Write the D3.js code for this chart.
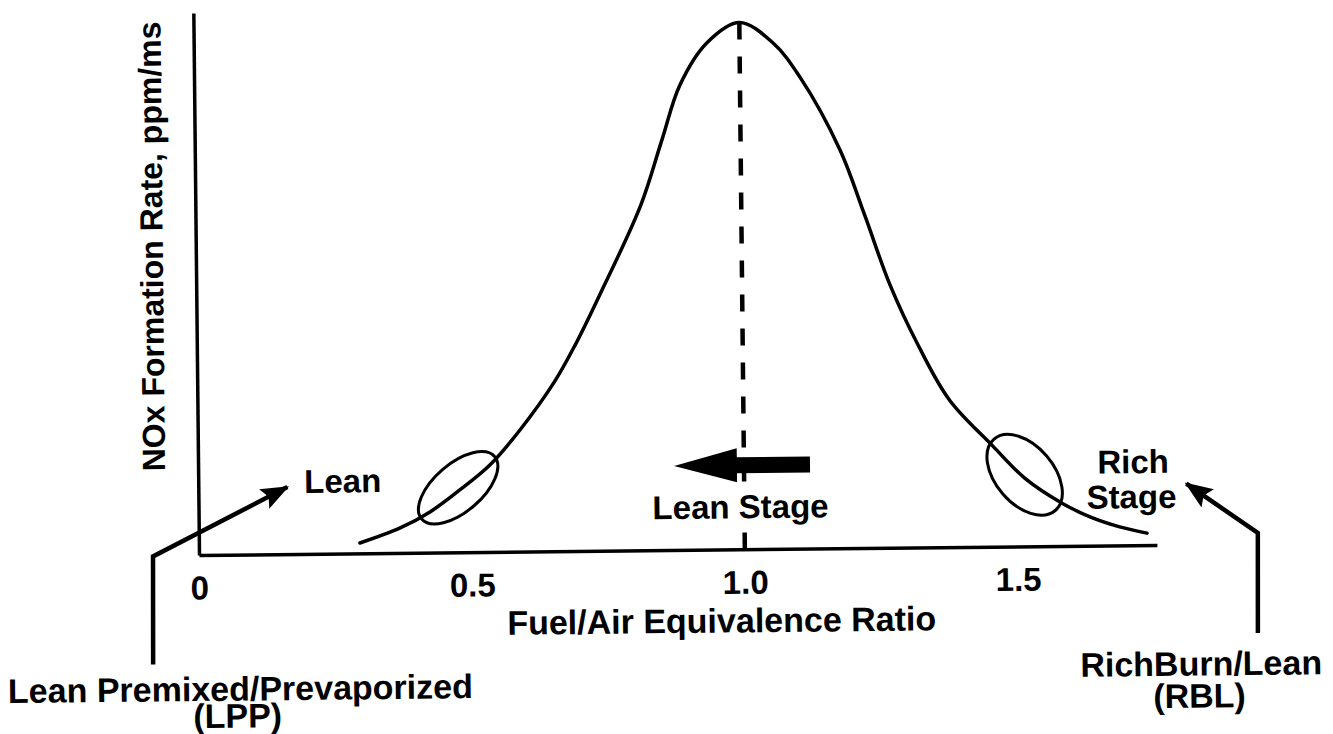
<!DOCTYPE html>
<html>
<head>
<meta charset="utf-8">
<script src="https://cdn.jsdelivr.net/npm/d3@7"></script>
<style>
  body { margin: 0; background: #fff; }
  text { font-family: "Liberation Sans", Arial, Helvetica, sans-serif; font-weight: bold; fill: #000; }
</style>
</head>
<body>
<div id="chart"></div>
<script>
// values (equivalence ratio vs relative NOx rate)
var phi = [0.295, 0.369, 0.424, 0.479, 0.535, 0.590, 0.654, 0.693, 0.739, 0.816, 0.856, 0.890, 0.940,
  1.000, 1.061, 1.110, 1.182, 1.226, 1.271, 1.321, 1.378, 1.456, 1.514, 1.582, 1.633, 1.687, 1.737];
var rate = [0.019, 0.046, 0.075, 0.115, 0.161, 0.224, 0.312, 0.380, 0.472, 0.637, 0.757, 0.858, 0.935,
  0.972, 0.934, 0.870, 0.735, 0.614, 0.485, 0.374, 0.271, 0.186, 0.126, 0.079, 0.053, 0.034, 0.022];
var xTicks = [0, 0.5, 1.0, 1.5];
var xTickLabels = ["0", "0.5", "1.0", "1.5"];
var xMax = 1.755;
var peakPhi = 1.0;
var peakRate = 0.972;
// the two marked operating zones (centre phi, centre rate)
var zones = [
  { phi: 0.476, rate: 0.119, rx: 48, ry: 24, angle: -40 },
  { phi: 1.514, rate: 0.132, rx: 47, ry: 29, angle: 50 }
];
// lean stage arrow: from phi, to phi, at rate
var stageArrow = { from: 1.121, head: 0.987, to: 0.872, rate: 0.155 };

var width = 1333,
  height = 734;
var origin = { x: 199, y: 555 };

var svg = d3
  .select("#chart")
  .append("svg")
  .attr("width", width)
  .attr("height", height);

// the scanned figure sits slightly tilted
var g = svg
  .append("g")
  .attr("transform", "rotate(-0.6," + origin.x + "," + origin.y + ")");

var x = d3.scaleLinear().domain([0, xMax]).range([origin.x, 1157]);
var y = d3.scaleLinear().domain([0, 1]).range([origin.y, 13]);

// arrow marker for the leaders
svg
  .append("defs")
  .append("marker")
  .attr("id", "head")
  .attr("markerUnits", "userSpaceOnUse")
  .attr("viewBox", "0 0 28 22")
  .attr("markerWidth", 28)
  .attr("markerHeight", 22)
  .attr("refX", 26)
  .attr("refY", 11)
  .attr("orient", "auto")
  .append("path")
  .attr("d", "M0,0 L28,11 L0,22 L5,11 z")
  .attr("fill", "#000");

// axes
var xAxis = d3
  .axisBottom(x)
  .tickValues(xTicks)
  .tickSize(0)
  .tickSizeOuter(0)
  .tickPadding(21)
  .tickFormat(function (d, i) {
    return xTickLabels[i];
  });

var gx = g
  .append("g")
  .attr("transform", "translate(0," + origin.y + ")")
  .call(xAxis);
gx.select(".domain").attr("stroke", "#000").attr("stroke-width", 3.5);
gx.selectAll("text")
  .attr("font-size", "33px")
  .attr("dy", "0.71em")
  .attr("font-family", null);

var gy = g
  .append("g")
  .attr("transform", "translate(" + origin.x + ",0)")
  .call(d3.axisLeft(y).tickValues([]).tickSizeOuter(0));
gy.select(".domain").attr("stroke", "#000").attr("stroke-width", 3.5);

// dashed line at stoichiometric
g.append("line")
  .attr("x1", x(peakPhi))
  .attr("x2", x(peakPhi))
  .attr("y1", y(peakRate))
  .attr("y2", y(0))
  .attr("stroke", "#000")
  .attr("stroke-width", 4.5)
  .attr("stroke-dasharray", "17,17");

// NOx curve
var line = d3
  .line()
  .x(function (d) { return x(d[0]); })
  .y(function (d) { return y(d[1]); })
  .curve(d3.curveCatmullRom.alpha(0.5));

g.append("path")
  .datum(d3.zip(phi, rate))
  .attr("d", line)
  .attr("fill", "none")
  .attr("stroke", "#000")
  .attr("stroke-width", 3.5)
  .attr("stroke-linecap", "round");

// ellipses
g.selectAll(".zone")
  .data(zones)
  .enter()
  .append("ellipse")
  .attr("class", "zone")
  .attr("cx", 0)
  .attr("cy", 0)
  .attr("rx", function (d) { return d.rx; })
  .attr("ry", function (d) { return d.ry; })
  .attr("transform", function (d) {
    return "translate(" + x(d.phi) + "," + y(d.rate) + ") rotate(" + d.angle + ")";
  })
  .attr("fill", "none")
  .attr("stroke", "#000")
  .attr("stroke-width", 3);

// lean stage arrow
var ay = y(stageArrow.rate);
g.append("polygon")
  .attr("points", [
    [x(stageArrow.from), ay - 8],
    [x(stageArrow.head), ay - 8],
    [x(stageArrow.head), ay - 17],
    [x(stageArrow.to), ay],
    [x(stageArrow.head), ay + 17],
    [x(stageArrow.head), ay + 8],
    [x(stageArrow.from), ay + 8]
  ].join(" "))
  .attr("fill", "#000");

// leaders
g.append("polyline")
  .attr("points", "152,664 153,556 288,488")
  .attr("fill", "none")
  .attr("stroke", "#000")
  .attr("stroke-width", 4.5)
  .attr("marker-end", "url(#head)");

g.append("polyline")
  .attr("points", "1257,644 1258,544 1187,494")
  .attr("fill", "none")
  .attr("stroke", "#000")
  .attr("stroke-width", 4.5)
  .attr("marker-end", "url(#head)");

// texts
g.append("text")
  .attr("transform", "translate(166,246) rotate(-90)")
  .attr("text-anchor", "middle")
  .attr("font-size", "32px")
  .text("NOx Formation Rate, ppm/ms");

g.append("text")
  .attr("x", 721)
  .attr("y", 638)
  .attr("text-anchor", "middle")
  .attr("font-size", "34px")
  .text("Fuel/Air Equivalence Ratio");

g.append("text")
  .attr("x", 305)
  .attr("y", 494)
  .attr("font-size", "33px")
  .text("Lean");

g.append("text")
  .attr("x", 741)
  .attr("y", 524)
  .attr("text-anchor", "middle")
  .attr("font-size", "33px")
  .style("paint-order", "stroke")
  .style("stroke", "#fff")
  .style("stroke-width", "6px")
  .text("Lean Stage");

var richText = g
  .append("text")
  .attr("text-anchor", "middle")
  .attr("font-size", "33px");
richText.append("tspan").attr("x", 1134).attr("y", 483).text("Rich");
richText.append("tspan").attr("x", 1132).attr("y", 518).text("Stage");

var lppText = g
  .append("text")
  .attr("text-anchor", "middle")
  .attr("font-size", "34px");
lppText.append("tspan").attr("x", 239).attr("y", 701).text("Lean Premixed/Prevaporized");
lppText.append("tspan").attr("x", 236).attr("y", 728).text("(LPP)");

var rblText = g
  .append("text")
  .attr("text-anchor", "middle")
  .attr("font-size", "34px");
rblText.append("tspan").attr("x", 1200).attr("y", 686).text("RichBurn/Lean");
rblText.append("tspan").attr("x", 1198).attr("y", 718).text("(RBL)");
</script>
</body>
</html>
